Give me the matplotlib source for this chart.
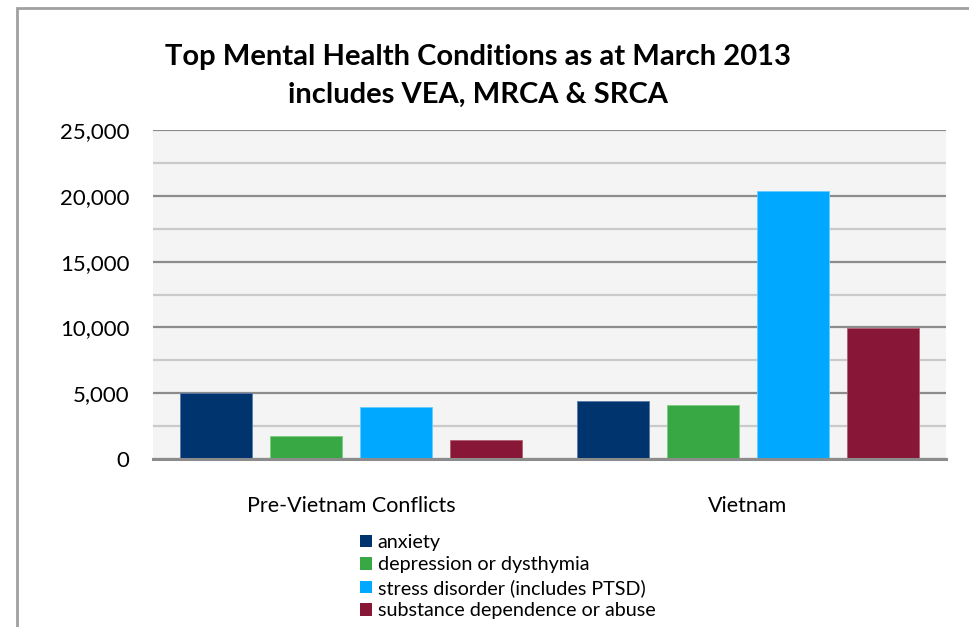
import numpy as np
import matplotlib
matplotlib.use('Agg')
import matplotlib.pyplot as plt
from matplotlib.patches import Rectangle, Patch
from matplotlib.ticker import FuncFormatter, MultipleLocator

conflicts = ['Pre-Vietnam Conflicts', 'Vietnam']
conditions = ['anxiety', 'depression or dysthymia',
              'stress disorder (includes PTSD)', 'substance dependence or abuse']
values = {
    'anxiety': [5020, 4400],
    'depression or dysthymia': [1750, 4100],
    'stress disorder (includes PTSD)': [3930, 20360],
    'substance dependence or abuse': [1440, 9950],
}
colors = ['#00346f', '#38a845', '#00a8ff', '#881636']
edges = ['#5a7aa8', '#7ccc80', '#66ccff', '#b06070']

plt.rcParams['font.family'] = ['Lato', 'DejaVu Sans']

fig = plt.figure(figsize=(9.69, 6.27), dpi=100)
ax = fig.add_axes([153/969, 1-459/627, (946-153)/969, (459-130)/627])

x = np.arange(len(conflicts))
width = 0.182
step = 0.227
for i, c in enumerate(conditions):
    ax.bar(x + (i - 1.5)*step, values[c], width, color=colors[i],
           edgecolor=edges[i], linewidth=0.6, zorder=3, label=c)

ax.set_xlim(-0.5, 1.5)
ax.set_ylim(0, 25000)
ax.set_facecolor('#f4f4f4')
ax.yaxis.set_major_locator(MultipleLocator(5000))
ax.yaxis.set_minor_locator(MultipleLocator(2500))
ax.yaxis.set_major_formatter(FuncFormatter(lambda v, p: f'{int(v):,}'))
ax.grid(axis='y', which='major', color='#8c8c8c', linewidth=1.6, zorder=1)
ax.grid(axis='y', which='minor', color='#cacaca', linewidth=1.6, zorder=1)
for s in ['top', 'right', 'left']:
    ax.spines[s].set_visible(False)
ax.spines['bottom'].set_color('#8c8c8c')
ax.spines['bottom'].set_linewidth(2.2)
ax.spines['bottom'].set_zorder(4)
ax.tick_params(axis='both', which='both', length=0)
ax.tick_params(axis='y', labelsize=16, pad=17)
ax.tick_params(axis='x', labelsize=15.5, pad=27)
ax.set_xticks(x)
ax.set_xticklabels(conflicts)

fig.text(0.493, 1-57/627, 'Top Mental Health Conditions as at March 2013',
         ha='center', va='center', fontsize=21, fontweight='bold')
fig.text(0.493, 1-95/627, 'includes VEA, MRCA & SRCA',
         ha='center', va='center', fontsize=21, fontweight='bold')

handles = [Patch(facecolor=colors[i], edgecolor='none') for i in range(4)]
fig.legend(handles, conditions, loc='upper left', bbox_to_anchor=(350/969, 1-524/627),
           frameon=False, fontsize=14.2, handlelength=0.6, handleheight=0.6,
           handletextpad=0.3, labelspacing=0.28, borderpad=0)

fig.patches.append(Rectangle((16.5/969, -0.1), 1.2, 1-7.5/627+0.1,
                             transform=fig.transFigure, fill=False,
                             edgecolor='#a0a0a0', linewidth=2))

fig.savefig('out.png', dpi=100)
